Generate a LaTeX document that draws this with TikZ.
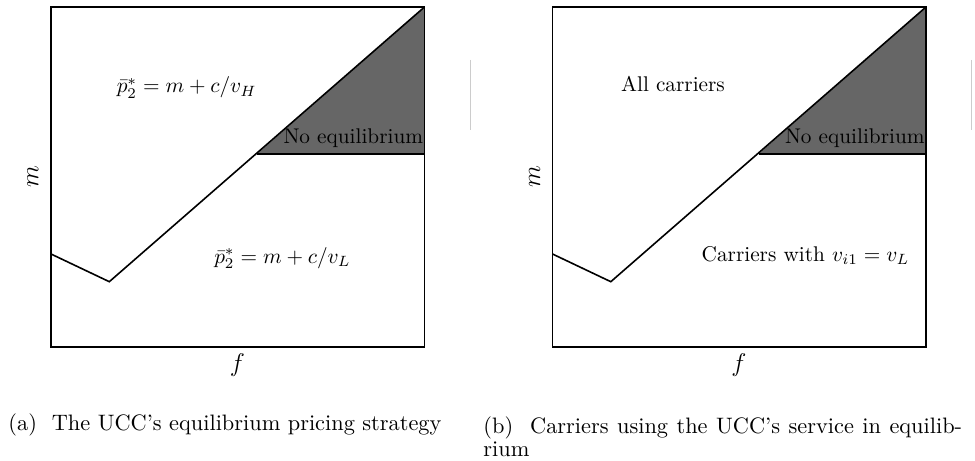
\documentclass[tikz,border=0pt]{standalone}
\usepackage{amsmath,amssymb}
\usetikzlibrary{positioning}

\begin{document}
\begin{tikzpicture}[
    x=0.47pt, y=-0.47pt,
    frame/.style={
        draw,
        line width=0.6pt
    },
    boundary/.style={
        draw,
        line width=0.75pt
    },
    noeq/.style={
        fill=black!60
    },
    axislabel/.style={
        font=\large
    },
    region/.style={
        anchor=base,
        inner sep=0pt
    },
    caption/.style={
        inner sep=0pt,
        font=\fontsize{10.5}{11}\selectfont
    },
    edgemark/.style={
        draw,
        black!20,
        line width=0.4pt
    }
]
    \useasboundingbox (0,0) rectangle (975,461);

    % --- Both panels share the same frame and boundary ---
    \foreach \dx/\id in {0/a, 501.5/b} {
        \coordinate (bl-\id) at (\dx+51,347);
        \coordinate (tr-\id) at (\dx+424.5,7);
        \coordinate (start-\id) at (\dx+51,254);
        \coordinate (kink-\id) at (\dx+109.3,281.7);
        \coordinate (corner-\id) at (\dx+257,154);
        \coordinate (edge-\id) at (\dx+424.5,154);

        % shaded region
        \path [noeq] (corner-\id) -- (tr-\id) -- (edge-\id) -- cycle;
        \path [frame] (bl-\id) rectangle (tr-\id);
        \path [boundary] (start-\id) -- (kink-\id) -- (tr-\id);
        \path [frame] (corner-\id) -- (edge-\id);

        % axis labels
        \node [axislabel, rotate=90] (m-\id) at (\dx+33,177) {$m$};
        \node [axislabel] (f-\id) at (\dx+237.5,365) {$f$};
        \node [anchor=base east, inner sep=0pt] (noeq-\id) at (\dx+423.5,143.5) {No equilibrium};
    }

    % --- Region labels ---
    \node [region] (high-a) at (186.7,93) {$\bar{p}_2^* = m + c/v_H$};
    \node [region] (low-a) at (282.5,263) {$\bar{p}_2^* = m + c/v_L$};
    \node [region] (high-b) at (673,91.7) {All carriers};
    \node [region] (low-b) at (805.5,261.7) {Carriers with $v_{i1} = v_L$};

    % --- Thin marks at the right of each panel ---
    \coordinate (marktop-a) at (470,60);
    \coordinate (markbot-a) at (470,130);
    \coordinate (marktop-b) at (971.5,60);
    \coordinate (markbot-b) at (971.5,130);
    \path [edgemark] (marktop-a) -- (markbot-a);
    \path [edgemark] (marktop-b) -- (markbot-b);

    % --- Captions ---
    \node [caption, anchor=base west] (cap-a) at (8,430)
        {(a)\ \ The UCC's equilibrium pricing strategy};
    \node [caption, anchor=north west, text width=225pt, align=justify] (cap-b) at (483,416)
        {(b)\ \ Carriers using the UCC's service in equilib-\linebreak rium};

\end{tikzpicture}
\end{document}
